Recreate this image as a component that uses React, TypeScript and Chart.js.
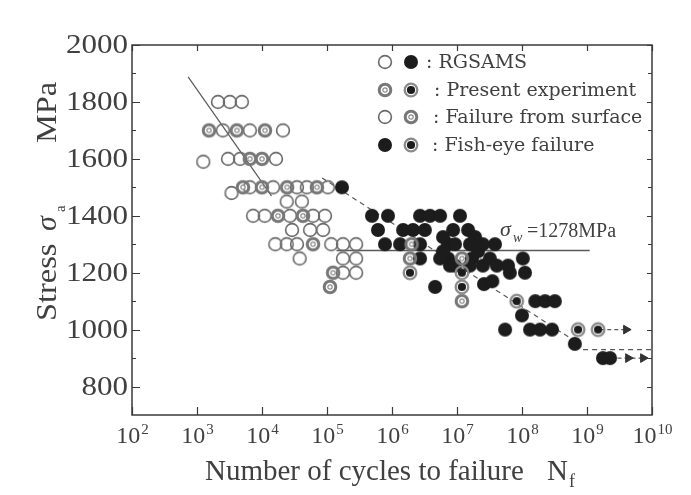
import React, { useEffect, useRef } from "react";
import { Chart, registerables } from "chart.js";

Chart.register(...registerables);

// ---------------- data ----------------
// RGSAMS, failure from surface (open thin circles)
const rgsamsSurfaceN = [2100, 3200, 4900, 2500, 6500, 21000, 1250, 3000, 4600, 16400, 3400, 6500, 14800, 34500, 49000, 103000, 24000, 41000, 7300, 11000, 27000, 61000, 93000, 29000, 55000, 87000, 16000, 24000, 34500, 116000, 176000, 280000, 38000, 176000, 280000, 176000, 280000];
const rgsamsSurfaceS = [1800, 1800, 1800, 1700, 1700, 1700, 1590, 1600, 1600, 1600, 1480, 1500, 1500, 1500, 1500, 1500, 1450, 1450, 1400, 1400, 1400, 1400, 1400, 1350, 1350, 1350, 1300, 1300, 1300, 1300, 1300, 1300, 1250, 1250, 1250, 1200, 1200];

// RGSAMS, fish-eye failure (filled circles)
const rgsamsFishEyeN = [170000, 492000, 867000, 609000, 780000, 1.33e6, 1.48e6, 2.1e6, 2.7e6, 2.7e6, 2.7e6, 3.2e6, 3.84e6, 5.5e6, 4.6e6, 7.3e6, 8.7e6, 1.11e7, 1.58e7, 1.48e7, 1.7e7, 2.1e7, 2.5e7, 2.5e7, 3.2e7, 3.84e7, 4.1e7, 2.6e7, 3.5e7, 6.1e7, 6.5e7, 1.03e8, 1.11e8, 1.6e8, 2.26e8, 3.2e8, 1.0e8, 5.5e7, 1.33e8, 1.89e8, 2.9e8, 6.5e8, 1.76e9, 2.26e9, 7.3e6, 7.8e6, 6.1e6, 6.1e6, 9.3e6, 9.3e6, 1.58e7, 1.9e7, 5.5e6];
const rgsamsFishEyeS = [1500, 1400, 1400, 1350, 1300, 1300, 1350, 1350, 1400, 1300, 1250, 1350, 1400, 1400, 1150, 1300, 1350, 1400, 1300, 1350, 1250, 1275, 1300, 1225, 1250, 1300, 1225, 1160, 1170, 1225, 1200, 1250, 1200, 1100, 1100, 1100, 1050, 1000, 1000, 1000, 1000, 950, 900, 900, 1250, 1225, 1325, 1275, 1300, 1225, 1225, 1325, 1250];

// Present experiment, failure from surface
const presentSurfaceN = [1530, 4100, 11100, 6500, 10000, 5100, 10000, 24300, 70000, 17600, 42700, 61000, 124000, 111000, 2.0e6, 1.89e6, 1.19e7, 1.19e7];
const presentSurfaceS = [1700, 1700, 1700, 1600, 1600, 1500, 1500, 1500, 1500, 1400, 1400, 1300, 1200, 1150, 1300, 1250, 1250, 1100];

// Present experiment, fish-eye failure
const presentFishEyeN = [1.89e6, 1.19e7, 1.19e7, 8.3e7, 7.3e8, 1.48e9];
const presentFishEyeS = [1200, 1200, 1150, 1100, 1000, 1000];

// Run-out arrows
const runoutN = [4.0e9, 4.3e9, 7.3e9];
const runoutS = [1000, 900, 900];
const runoutLine1N = [1.6e9, 4.0e9];
const runoutLine1S = [1000, 1000];
const runoutLine2N = [2.3e9, 7.3e9];
const runoutLine2S = [900, 900];

// Curves
const basquinN = [730, 14000];
const basquinS = [1888, 1470];
const fishEyeCurveN = [84000, 6.0e8];
const fishEyeCurveS = [1533, 965];
const lowerCurveN = [8.7e8, 1e10];
const lowerCurveS = [930, 930];
const fatigueLimitN = [1.4e5, 1.1e9];
const fatigueLimitS = [1278, 1278];
const fatigueLimitLabel = "=1278MPa";

// Axes
const yTickValues = [800, 1000, 1200, 1400, 1600, 1800, 2000];
const yMinorValues = [900, 1100, 1300, 1500, 1700, 1900];
const xTickExponents = [2, 3, 4, 5, 6, 7, 8, 9, 10];
const legendLabels = [": RGSAMS", ": Present experiment", ": Failure from surface", ": Fish-eye failure"];

const SERIF = '"Liberation Serif", "Times New Roman", Times, serif';
const WIDE_SERIF = '"DejaVu Serif", serif';

const pts = (n: number[], s: number[]) => n.map((v, i) => ({ x: v, y: s[i] }));

function makeMarker(kind: string): HTMLCanvasElement {
  const c = document.createElement("canvas");
  c.width = 18;
  c.height = 18;
  const g = c.getContext("2d")!;
  const cx = 9, cy = 9;
  if (kind === "open") {
    g.beginPath();
    g.arc(cx, cy, 6.4, 0, Math.PI * 2);
    g.lineWidth = 1.6;
    g.strokeStyle = "#6a6a6a";
    g.stroke();
  } else if (kind === "filled") {
    g.beginPath();
    g.arc(cx, cy, 7.0, 0, Math.PI * 2);
    g.fillStyle = "#1c1c1c";
    g.fill();
  } else if (kind === "pSurface") {
    g.beginPath();
    g.arc(cx, cy, 5.8, 0, Math.PI * 2);
    g.lineWidth = 3.0;
    g.strokeStyle = "#777";
    g.stroke();
    g.beginPath();
    g.arc(cx, cy, 2.2, 0, Math.PI * 2);
    g.fillStyle = "#fff";
    g.fill();
    g.lineWidth = 1.2;
    g.strokeStyle = "#8a8a8a";
    g.stroke();
  } else {
    g.beginPath();
    g.arc(cx, cy, 6.3, 0, Math.PI * 2);
    g.lineWidth = 2.3;
    g.strokeStyle = "#8a8a8a";
    g.stroke();
    g.beginPath();
    g.arc(cx, cy, 4.1, 0, Math.PI * 2);
    g.fillStyle = "#1c1c1c";
    g.fill();
  }
  return c;
}

function stretchText(ctx: CanvasRenderingContext2D, text: string, x: number, y: number, sx: number, align: CanvasTextAlign) {
  ctx.save();
  ctx.translate(x, y);
  ctx.scale(sx, 1);
  ctx.textAlign = align;
  ctx.fillText(text, 0, 0);
  ctx.restore();
}

export default function App() {
  const ref = useRef<HTMLCanvasElement>(null);
  useEffect(() => {
    const canvas = ref.current!;
    const mOpen = makeMarker("open");
    const mFilled = makeMarker("filled");
    const mPS = makeMarker("pSurface");
    const mPF = makeMarker("pFish");

    const lineDs = (n: number[], s: number[], dash: number[], w: number) => ({
      type: "line" as const,
      data: pts(n, s),
      showLine: true,
      borderColor: "#5a5a5a",
      borderWidth: w,
      borderDash: dash,
      pointRadius: 0,
      fill: false,
    });

    const decor = {
      id: "decor",
      afterDraw(chart: any) {
        const { ctx, chartArea: a, scales } = chart;
        const x = scales.x, y = scales.y;
        ctx.save();
        ctx.fillStyle = "#404040";
        ctx.strokeStyle = "#3a3a3a";
        // frame
        ctx.lineWidth = 1.5;
        ctx.strokeRect(a.left, a.top, a.right - a.left, a.bottom - a.top);
        ctx.lineWidth = 1.2;
        ctx.beginPath();
        yTickValues.forEach((v) => {
          const py = Math.round(y.getPixelForValue(v)) + 0.5;
          ctx.moveTo(a.left, py); ctx.lineTo(a.left + 8, py);
          ctx.moveTo(a.right, py); ctx.lineTo(a.right - 5, py);
        });
        yMinorValues.forEach((v) => {
          const py = Math.round(y.getPixelForValue(v)) + 0.5;
          ctx.moveTo(a.left, py); ctx.lineTo(a.left + 4, py);
          ctx.moveTo(a.right, py); ctx.lineTo(a.right - 4, py);
        });
        xTickExponents.forEach((e) => {
          const px = Math.round(x.getPixelForValue(Math.pow(10, e))) + 0.5;
          ctx.moveTo(px, a.bottom); ctx.lineTo(px, a.bottom - 8);
          ctx.moveTo(px, a.top); ctx.lineTo(px, a.top + 6);
        });
        ctx.stroke();

        // y tick labels
        ctx.font = `27px ${SERIF}`;
        ctx.textBaseline = "middle";
        yTickValues.forEach((v) => {
          stretchText(ctx, String(v), a.left - 4, y.getPixelForValue(v) + 1, 1.15, "right");
        });
        // x tick labels
        ctx.textBaseline = "alphabetic";
        xTickExponents.forEach((e) => {
          const px = x.getPixelForValue(Math.pow(10, e));
          ctx.font = `24px ${SERIF}`;
          const wb = ctx.measureText("10").width;
          ctx.font = `15px ${SERIF}`;
          const ws = ctx.measureText(String(e)).width;
          const start = px - (wb + ws) / 2;
          ctx.font = `24px ${SERIF}`;
          ctx.textAlign = "left";
          ctx.fillText("10", start, a.bottom + 28);
          ctx.font = `15px ${SERIF}`;
          ctx.fillText(String(e), start + wb + 1, a.bottom + 19);
        });
        // x title
        ctx.font = `29px ${SERIF}`;
        ctx.textAlign = "left";
        ctx.fillText("Number of cycles to failure", 205, 480);
        ctx.fillText("N", 547, 480);
        ctx.font = `18px ${SERIF}`;
        ctx.fillText("f", 569, 487);
        // y title (rotated)
        ctx.save();
        ctx.translate(56, 0);
        ctx.rotate(-Math.PI / 2);
        ctx.font = `30px ${SERIF}`;
        stretchText(ctx, "Stress", -321, 0, 1.08, "left");
        ctx.font = `italic 30px ${SERIF}`;
        stretchText(ctx, "\u03c3", -231, 0, 1.0, "left");
        ctx.font = `15px ${SERIF}`;
        ctx.fillText("a", -212, 9);
        ctx.font = `30px ${SERIF}`;
        stretchText(ctx, "MPa", -143, 0, 1.08, "left");
        ctx.restore();

        // fatigue limit label
        ctx.font = `italic 22px ${SERIF}`;
        ctx.fillText("\u03c3", 500, 236);
        ctx.font = `italic 14px ${SERIF}`;
        ctx.fillText("w", 513, 242);
        ctx.font = `20px ${SERIF}`;
        ctx.fillText(fatigueLimitLabel, 527, 237);

        // legend
        const rows = [62, 90, 117, 145];
        const textX = [426, 434, 433, 432];
        const icons = [[mOpen, mFilled], [mPS, mPF], [mOpen, mPS], [mFilled, mPF]];
        ctx.font = `19px ${WIDE_SERIF}`;
        ctx.textBaseline = "middle";
        rows.forEach((ry, i) => {
          ctx.drawImage(icons[i][0], 385 - 9, ry - 9);
          ctx.drawImage(icons[i][1], 411 - 9, ry - 9);
          ctx.fillText(legendLabels[i], textX[i], ry + 1);
        });
        ctx.restore();
      },
    };

    const chart = new Chart(canvas, {
      type: "scatter",
      data: {
        datasets: [
          { data: pts(presentFishEyeN, presentFishEyeS), pointStyle: mPF as any, pointRadius: 7 },
          { data: pts(presentSurfaceN, presentSurfaceS), pointStyle: mPS as any, pointRadius: 7 },
          { data: pts(rgsamsFishEyeN, rgsamsFishEyeS), pointStyle: mFilled as any, pointRadius: 7 },
          { data: pts(rgsamsSurfaceN, rgsamsSurfaceS), pointStyle: mOpen as any, pointRadius: 7 },
          {
            data: pts(runoutN, runoutS),
            pointStyle: "triangle",
            rotation: 90,
            pointRadius: 5,
            backgroundColor: "#333",
            borderColor: "#333",
          },
          lineDs(runoutLine1N, runoutLine1S, [4, 3], 1.2),
          lineDs(runoutLine2N, runoutLine2S, [4, 3], 1.2),
          lineDs(basquinN, basquinS, [], 1.2),
          lineDs(fishEyeCurveN, fishEyeCurveS, [5, 4], 1.2),
          lineDs(lowerCurveN, lowerCurveS, [5, 4], 1.2),
          lineDs(fatigueLimitN, fatigueLimitS, [], 1.3),
        ] as any,
      },
      options: {
        responsive: false,
        animation: false,
        devicePixelRatio: 1,
        layout: { padding: { left: 132, right: 39, top: 45, bottom: 80 } },
        plugins: { legend: { display: false }, tooltip: { enabled: false } },
        scales: {
          x: { type: "logarithmic", min: 100, max: 1e10, display: false },
          y: { type: "linear", min: 700, max: 2000, display: false },
        },
      },
      plugins: [decor],
    });
    return () => { chart.destroy(); };
  }, []);

  return (
    <div style={{ position: "fixed", left: 0, top: 0, width: 691, height: 495, background: "#fff" }}>
      <canvas ref={ref} width={691} height={495} style={{ display: "block" }} />
    </div>
  );
}
